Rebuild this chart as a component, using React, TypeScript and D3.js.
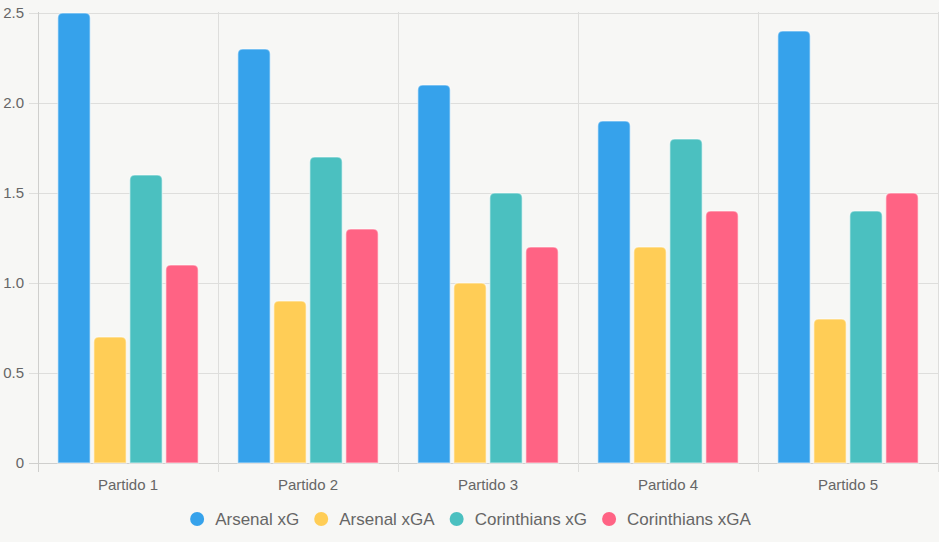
import React, { useEffect, useRef } from "react";
import * as d3 from "d3";

const categories = ["Partido 1", "Partido 2", "Partido 3", "Partido 4", "Partido 5"];
const seriesNames = ["Arsenal xG", "Arsenal xGA", "Corinthians xG", "Corinthians xGA"];
const arsenalXG = [2.5, 2.3, 2.1, 1.9, 2.4];
const arsenalXGA = [0.7, 0.9, 1.0, 1.2, 0.8];
const corinthiansXG = [1.6, 1.7, 1.5, 1.8, 1.4];
const corinthiansXGA = [1.1, 1.3, 1.2, 1.4, 1.5];
const colors = ["#36a2eb", "#ffcd56", "#4bc0c0", "#ff6384"];
const yTicks = [0, 0.5, 1.0, 1.5, 2.0, 2.5];

const W = 939;
const H = 542;
const FONT = "'Liberation Sans', Arial, Helvetica, sans-serif";

export default function App() {
  const ref = useRef<SVGSVGElement | null>(null);

  useEffect(() => {
    const svg = d3.select(ref.current);
    svg.selectAll("*").remove();
    const seriesValues = [arsenalXG, arsenalXGA, corinthiansXG, corinthiansXGA];

    const left = 38, right = 938, top = 13, bottom = 463;
    const x = d3.scaleBand<string>().domain(categories).range([left, right]).padding(0);
    const cw = x.bandwidth();
    const sub = d3.scaleBand<string>().domain(seriesNames).range([cw * 0.1, cw * 0.9]).padding(0);
    const bw = sub.bandwidth() * 0.9;
    const y = d3.scaleLinear().domain([0, 2.5]).range([bottom, top]);

    svg.append("rect").attr("width", W).attr("height", H).attr("fill", "#f7f7f5");

    const grid = svg.append("g");
    yTicks.forEach((t) => {
      grid.append("line")
        .attr("x1", left - 9).attr("x2", right)
        .attr("y1", Math.round(y(t)) + 0.5).attr("y2", Math.round(y(t)) + 0.5)
        .attr("stroke", t === 0 ? "#cfcfcd" : "#dededc").attr("stroke-width", 1);
    });
    const bounds = [left, ...categories.map((c) => (x(c) as number) + cw)];
    bounds.forEach((bx) => {
      grid.append("line")
        .attr("x1", Math.round(bx) + 0.5).attr("x2", Math.round(bx) + 0.5)
        .attr("y1", top - 1).attr("y2", bottom + 9)
        .attr("stroke", bx === left ? "#cfcfcd" : "#dededc").attr("stroke-width", 1);
    });

    svg.append("g").selectAll("text").data(yTicks).join("text")
      .attr("x", left - 14).attr("y", (d) => y(d)).attr("dy", "0.35em")
      .attr("text-anchor", "end").attr("font-family", FONT).attr("font-size", 15)
      .attr("fill", "#666").text((d) => (d === 0 ? "0" : d.toFixed(1)));

    svg.append("g").selectAll("text").data(categories).join("text")
      .attr("x", (d) => (x(d) as number) + cw / 2).attr("y", 485).attr("dy", "0.35em")
      .attr("text-anchor", "middle").attr("font-family", FONT).attr("font-size", 15)
      .attr("fill", "#666").text((d) => d);

    const r = 5;
    const barPath = (x0: number, y0: number, w: number, h: number) => {
      const rr = Math.min(r, h, w / 2);
      return `M${x0},${y0 + h} L${x0},${y0 + rr} Q${x0},${y0} ${x0 + rr},${y0} L${x0 + w - rr},${y0} Q${x0 + w},${y0} ${x0 + w},${y0 + rr} L${x0 + w},${y0 + h} Z`;
    };
    const bars = svg.append("g");
    seriesNames.forEach((s, si) => {
      seriesValues[si].forEach((v, ci) => {
        const cx = (x(categories[ci]) as number) + (sub(s) as number) + (sub.bandwidth() - bw) / 2;
        const y0 = y(v);
        bars.append("path")
          .attr("d", barPath(cx, y0, bw, bottom - y0))
          .attr("fill", colors[si])
          .attr("stroke", "rgba(255,255,255,0.45)")
          .attr("stroke-width", 1.5);
      });
    });

    const lg = svg.append("g");
    const items = seriesNames.map((s, i) => {
      const g = lg.append("g");
      g.append("circle").attr("r", 7).attr("cx", 0).attr("cy", 0).attr("fill", colors[i]);
      const t = g.append("text").attr("x", 18).attr("y", 0).attr("dy", "0.35em")
        .attr("font-family", FONT).attr("font-size", 17).attr("fill", "#666").text(s);
      const tw = (t.node() as SVGTextElement).getComputedTextLength();
      return { g, tw };
    });
    let total = 0;
    items.forEach((it, i) => {
      total += 18 + it.tw + (i < items.length - 1 ? 22 : 0);
    });
    // span from first circle left edge (-7) to last text end
    let cur = W / 2 + 1 - (total + 7) / 2 + 7;
    items.forEach((it) => {
      it.g.attr("transform", `translate(${cur},519)`);
      cur += 18 + it.tw + 22;
    });
  }, []);

  return (
    <div style={{ position: "fixed", left: 0, top: 0, width: W, height: H }}>
      <svg ref={ref} width={W} height={H} style={{ display: "block" }} />
    </div>
  );
}
